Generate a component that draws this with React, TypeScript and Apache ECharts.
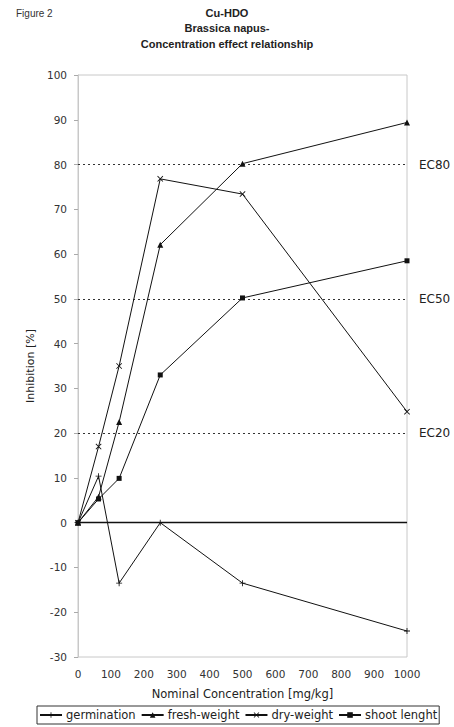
import React, { useEffect, useRef } from "react";
import * as echarts from "echarts";

const concentrations = [0, 62.5, 125, 250, 500, 1000];
const germination = [0, 10.4, -13.5, 0, -13.5, -24.2];
const freshWeight = [0, 5.8, 22.5, 62.1, 80.2, 89.4];
const dryWeight = [0, 17.0, 35.0, 76.8, 73.4, 24.8];
const shootLength = [0, 5.3, 9.9, 33.0, 50.2, 58.5];
const ecLevels = [80, 50, 20];
const ecLabels = ["EC80", "EC50", "EC20"];
const seriesNames = ["germination", "fresh-weight", "dry-weight", "shoot lenght"];

const FONT = "DejaVu Sans, Verdana, sans-serif";
const TITLE_FONT = "Liberation Sans, Arial, sans-serif";
const PLUS = "path://M4.3,0H5.7V4.3H10V5.7H5.7V10H4.3V5.7H0V4.3H4.3Z";
const CROSS = "path://M1,0L5,4L9,0L10,1L6,5L10,9L9,10L5,6L1,10L0,9L4,5L0,1Z";

const pair = (ys: number[]) => concentrations.map((x, i) => [x, ys[i]]);

export default function App() {
  const ref = useRef<HTMLDivElement>(null);
  useEffect(() => {
    if (!ref.current) return;
    const chart = echarts.init(ref.current, null, { renderer: "svg" });
    const symbols = [PLUS, "triangle", CROSS, "rect"];
    const sizes = [6, 6, 6, 5];
    const datasets = [germination, freshWeight, dryWeight, shootLength];
    const series: any[] = datasets.map((d, i) => ({
      name: seriesNames[i],
      type: "line",
      data: pair(d),
      symbol: symbols[i],
      symbolSize: sizes[i],
      showAllSymbol: true,
      lineStyle: { color: "#111", width: 1 },
      itemStyle: { color: "#111", borderColor: "#111", borderWidth: 0 },
      z: 5,
    }));
    series.push({
      type: "line",
      data: [],
      silent: true,
      markLine: {
        symbol: "none",
        silent: true,
        animation: false,
        data: [
          { yAxis: 0, lineStyle: { type: "solid", color: "#111", width: 1.3 }, label: { show: false } },
          ...ecLevels.map((v, i) => ({
            yAxis: v,
            lineStyle: { type: [2, 3], color: "#333", width: 1.2 },
            label: {
              show: true,
              position: "end",
              distance: 12,
              formatter: ecLabels[i],
              color: "#222",
              fontFamily: FONT,
              fontSize: 12,
            },
          })),
        ],
      },
    });
    chart.setOption({
      animation: false,
      backgroundColor: "#fff",
      textStyle: { fontFamily: FONT },
      title: {
        text: "Cu-HDO\nBrassica napus-\nConcentration effect relationship",
        left: "center",
        top: 0,
        textStyle: { fontFamily: TITLE_FONT, fontSize: 11, fontWeight: "bold", color: "#222", lineHeight: 15.5 },
      },
      graphic: [
        { type: "text", left: 16, top: 8, style: { text: "Figure 2", fontFamily: TITLE_FONT, fontSize: 10, fill: "#333" } },
      ],
      legend: {
        data: seriesNames,
        left: 37,
        top: 706,
        itemWidth: 22,
        itemHeight: 7,
        itemGap: 5,
        padding: [3, 2, 3, 2],
        borderColor: "#333",
        borderWidth: 1,
        textStyle: { fontFamily: FONT, fontSize: 11.5, color: "#222", padding: [0, 0, 0, -1] },
      },
      grid: { left: 78, right: 47, top: 75, bottom: 70, show: true, borderColor: "#c8c8c8", borderWidth: 1 },
      xAxis: {
        type: "value",
        min: 0,
        max: 1000,
        interval: 100,
        name: "Nominal Concentration [mg/kg]",
        nameLocation: "middle",
        nameGap: 31,
        nameTextStyle: { color: "#222", fontSize: 11.5, fontFamily: FONT },
        axisLine: { show: true, lineStyle: { color: "#c8c8c8" } },
        axisTick: { show: false },
        splitLine: { show: false },
        axisLabel: { color: "#333", fontSize: 10.5, fontFamily: FONT, margin: 11, formatter: (v: number) => String(v) },
      },
      yAxis: {
        type: "value",
        min: -30,
        max: 100,
        interval: 10,
        name: "Inhibition [%]",
        nameLocation: "middle",
        nameGap: 42,
        nameTextStyle: { color: "#222", fontSize: 11, fontFamily: FONT },
        axisLine: { show: true, lineStyle: { color: "#c8c8c8" } },
        axisTick: { show: true, length: 4, lineStyle: { color: "#aaa" } },
        splitLine: { show: false },
        axisLabel: { color: "#333", fontSize: 10.5, fontFamily: FONT, margin: 11 },
      },
      series,
    });
    return () => chart.dispose();
  }, []);
  return <div ref={ref} style={{ position: "fixed", left: 0, top: 0, width: 454, height: 727 }} />;
}
